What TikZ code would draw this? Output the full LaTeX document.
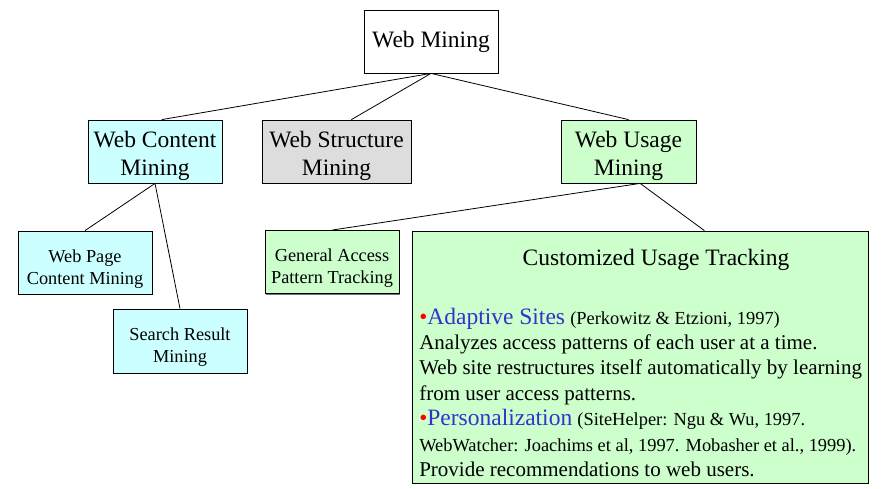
\documentclass[tikz,border=0pt]{standalone}
\usepackage{fontspec}
\setmainfont{Liberation Serif}
\usetikzlibrary{calc,shadows}
\definecolor{cyanbox}{RGB}{204,255,255}
\definecolor{graybox}{RGB}{221,221,221}
\definecolor{greenbox}{RGB}{204,255,204}
\definecolor{citeblue}{RGB}{51,51,204}
\newcommand{\bigsize}{\fontsize{23.5}{28}\selectfont}
\newcommand{\citesize}{\fontsize{18.4}{25.4}\selectfont}
\newcommand{\dotred}{{\color{red}\fontsize{23}{25.4}\selectfont\textbullet}}
\newcommand{\topstrut}{\rule{0pt}{25.5pt}}

\begin{document}
\begin{tikzpicture}[x=1pt,y=-1pt,
		box/.style={draw,line width=0.8pt,inner sep=0pt,align=center,
			drop shadow={shadow xshift=1.2pt,shadow yshift=-1.2pt,fill=black!55,opacity=1}},
		bigbox/.style={box,font=\bigsize,minimum height=63pt},
		smallbox/.style={box,fill=#1,font=\fontsize{18.3}{21.7}\selectfont,minimum width=134pt,minimum height=63pt}]
	\useasboundingbox (0,0) rectangle (884,489);
	\node[bigbox,fill=white,minimum width=134pt] (wm) at (431,41.5) {Web Mining};
	\node[bigbox,fill=cyanbox,minimum width=134pt] (wcm) at (155,151.5) {\topstrut Web Content\\Mining};
	\node[bigbox,fill=graybox,minimum width=149pt] (wsm) at (336.5,151.5) {\topstrut Web Structure\\Mining};
	\node[bigbox,fill=greenbox,minimum width=135pt] (wum) at (628.5,151.5) {\topstrut Web Usage\\Mining};
	\node[smallbox=cyanbox] (wpcm) at (85,262.5) {\topstrut Web Page\\Content Mining};
	\node[smallbox=cyanbox,minimum height=64pt] (srm) at (180,341) {\topstrut Search Result\\Mining};
	\node[smallbox=greenbox] (gapt) at (332,262) {\topstrut General Access\\Pattern Tracking};
	\node[box,fill=greenbox,minimum width=456pt,minimum height=252pt] (cut) at (640,357) {};
	\node[font=\bigsize,anchor=base] (cuttitle) at ($(cut.north)+(16,35)$) {Customized Usage Tracking};
	\node[anchor=north west,inner sep=0pt,align=left,font=\fontsize{21}{25.4}\selectfont] (cutbody) at ($(cut.north west)+(7.5,77)$)
		{\dotred{\color{citeblue}\bigsize Adaptive Sites} {\citesize(Perkowitz \& Etzioni, 1997)}\\
		Analyzes access patterns of each user at a time.\\
		Web site restructures itself automatically by learning\\
		from user access patterns.\\
		\dotred{\color{citeblue}\bigsize Personalization} {\citesize(SiteHelper: Ngu \& Wu, 1997.}\\
		{\citesize WebWatcher: Joachims et al, 1997. Mobasher et al., 1999).}\\
		Provide recommendations to web users.};
	\draw[line width=0.8pt] (wm.south)--(wcm.78) (wm.south)--(wsm.65) (wm.south)--(wum.north);
	\draw[line width=0.8pt] (wcm.south)--(wpcm.north) (wcm.south)--(srm.north);
	\draw[line width=0.8pt] (wum.-70)--(gapt.north) (wum.-70)--(cut.63.7);
\end{tikzpicture}
\end{document}
